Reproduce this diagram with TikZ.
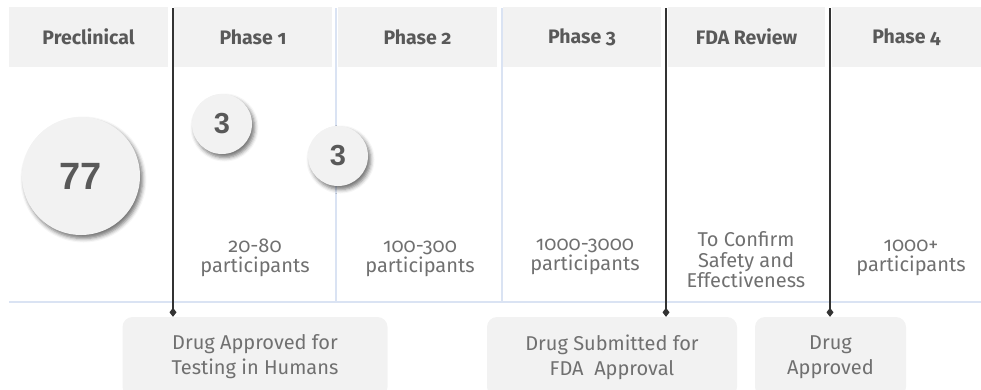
\documentclass[tikz,border=0pt]{standalone}
\usepackage{fontspec}
\setmainfont{Fira Sans}
\newfontfamily\headfont{Fira Sans}[Numbers=OldStyle]
\newfontfamily\lightfont{Fira Sans}[Numbers=OldStyle]
\newfontfamily\boxfont{Fira Sans}
\newfontfamily\numfont{Liberation Sans}
\usetikzlibrary{arrows.meta,shadows.blur}
\definecolor{cellgray}{HTML}{F2F2F2}
\definecolor{headtext}{HTML}{595959}
\definecolor{bodytext}{HTML}{707070}
\definecolor{milestone}{HTML}{333333}
\definecolor{gridblue}{HTML}{DAE3F3}
\tikzset{
  headcell/.style={fill=cellgray, draw=none, minimum height=60pt, inner sep=0pt,
    text=headtext, font=\headfont\bfseries\fontsize{19.5}{22}\selectfont},
  partext/.style={align=center, text=bodytext, inner sep=0pt,
    font=\lightfont\fontsize{20}{20.5}\selectfont},
  eventbox/.style={fill=cellgray, draw=none, rounded corners=10pt, inner sep=0pt,
    minimum height=80pt, text=bodytext, align=center,
    font=\boxfont\fontsize{20}{25}\selectfont},
  countdot/.style={circle, fill=cellgray, draw=none, inner sep=0pt, text=headtext,
    font=\numfont\bfseries,
    blur shadow={shadow xshift=2.5pt, shadow yshift=-3.5pt, shadow blur radius=4pt, shadow opacity=55}},
  gate/.style={draw=milestone, line width=1.8pt, -{Diamond[length=9pt,width=7pt]}},
  grid/.style={draw=gridblue, line width=1.6pt}
}
\begin{document}
\begin{tikzpicture}[x=1pt,y=-1pt]
\useasboundingbox (0,0) rectangle (981,389);

% phase header row
\node[headcell, minimum width=159pt] (hPre) at (88.5,37) {Preclinical};
\node[headcell, minimum width=158pt] (hP1) at (253,37) {Phase 1};
\node[headcell, minimum width=159pt] (hP2) at (417.5,37) {Phase 2};
\node[headcell, minimum width=158pt] (hP3) at (582,37) {Phase 3};
\node[headcell, minimum width=157pt] (hFDA) at (746.5,37) {FDA Review};
\node[headcell, minimum width=149pt] (hP4) at (906.5,37) {Phase 4};

% milestone boxes below the timeline
\node[eventbox, minimum width=265pt] (bHum) at (255,357) {Drug Approved for\\Testing in Humans};
\node[eventbox, minimum width=250pt] (bSub) at (612,357) {Drug Submitted for\\FDA\ \ Approval};
\node[eventbox, minimum width=151pt] (bApp) at (830.5,357) {Drug\\Approved};

% light grid lines
\coordinate (g1t) at (336,8);  \coordinate (g1b) at (336,302);
\coordinate (g2t) at (502,8);  \coordinate (g2b) at (502,302);
\coordinate (axL) at (9,302);  \coordinate (axR) at (981,302);
\draw[grid] (g1t) -- (g1b);
\draw[grid] (g2t) -- (g2b);
\draw[grid] (axL) -- (axR);

% milestone markers
\coordinate (m1) at (173,8);
\coordinate (m2) at (666,8);
\coordinate (m3) at (830,8);
\draw[gate] (m1) -- (m1 |- bHum.north);
\draw[gate] (m2) -- (m2 |- bSub.north);
\draw[gate] (m3) -- (m3 |- bApp.north);

% participant counts per phase
\node[partext] (tP1) at (255,258) {20-80\\participants};
\node[partext] (tP2) at (420,259) {100-300\\participants};
\node[partext] (tP3) at (585,257) {1000-3000\\participants};
\node[partext] (tFDA) at (746,260) {To Confirm\\Safety and\\Effectiveness};
\node[partext] (tP4) at (911,258) {1000+\\participants};

% candidate counts
\node[countdot, minimum size=118pt, font=\numfont\bfseries\fontsize{38}{42}\selectfont] (c77) at (81,176) {77};
\node[countdot, minimum size=60pt, font=\numfont\bfseries\fontsize{29}{32}\selectfont] (c3a) at (222,124) {3};
\node[countdot, minimum size=60pt, font=\numfont\bfseries\fontsize{29}{32}\selectfont] (c3b) at (338,156) {3};
\end{tikzpicture}
\end{document}
